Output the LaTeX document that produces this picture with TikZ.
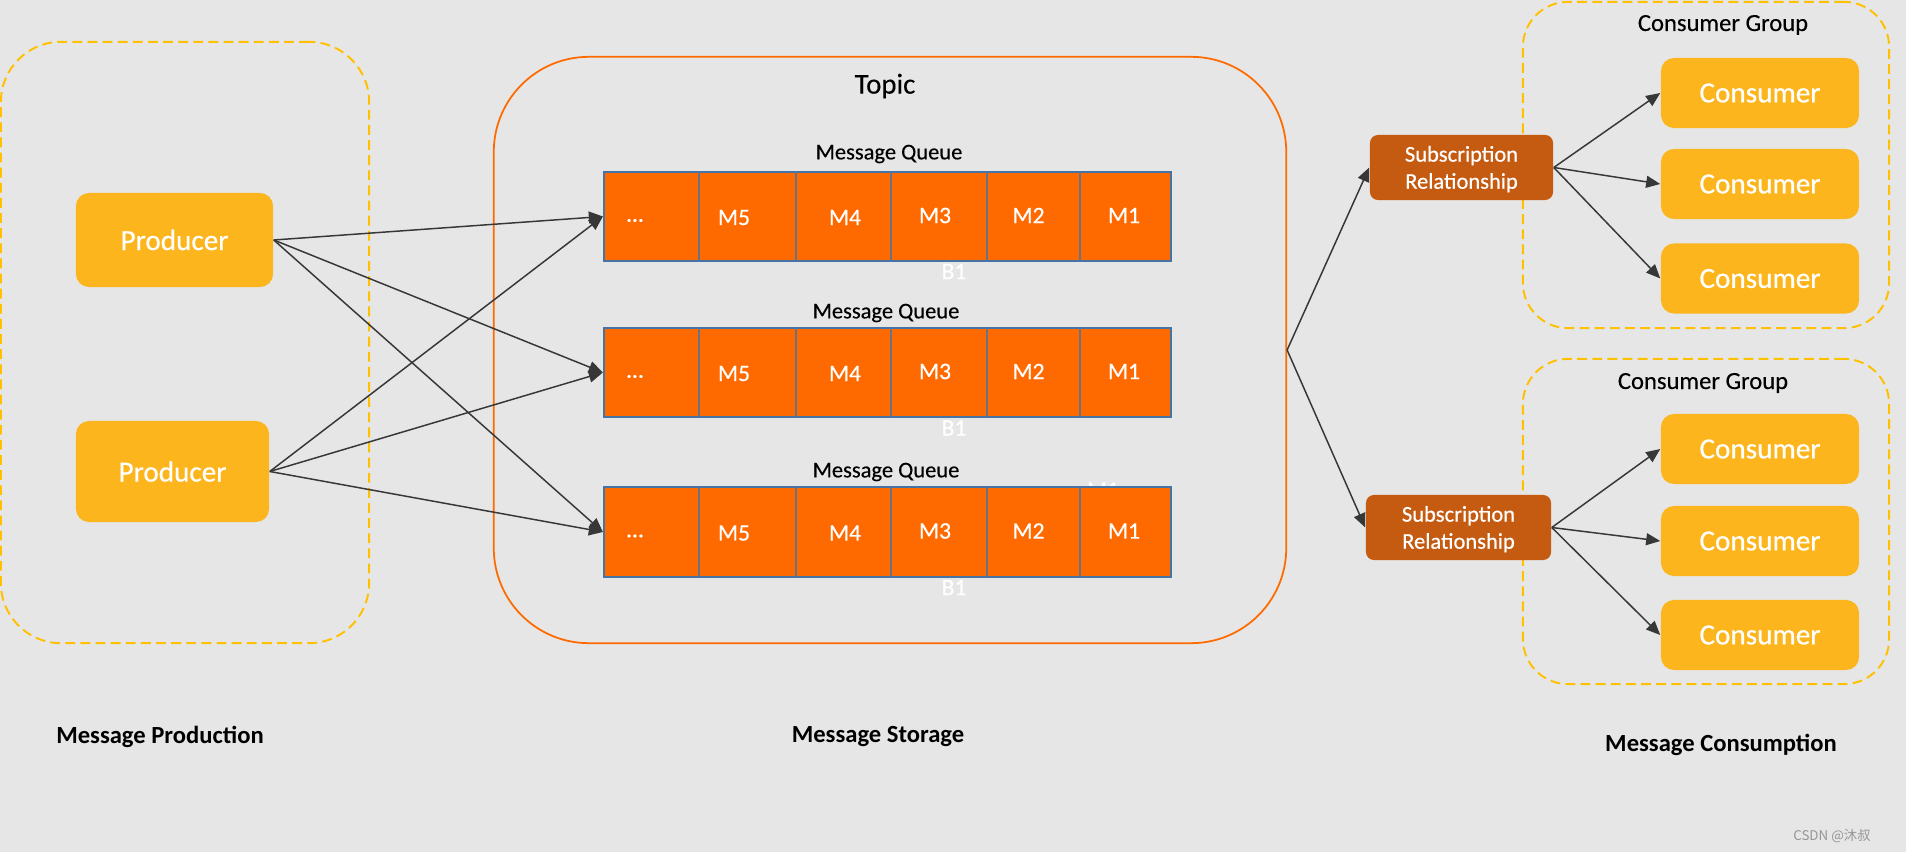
\documentclass[tikz,border=0pt]{standalone}
\usepackage{fontspec}
\setmainfont{Carlito}
\newfontfamily\heavyfont[FakeBold=0.5]{Carlito}
\newfontfamily\midfont[FakeBold=0.25]{Carlito}
\newfontfamily\cjkfont{Noto Sans CJK SC}
\usetikzlibrary{arrows.meta}
\definecolor{bgc}{RGB}{230,230,230}
\definecolor{gold}{RGB}{253,181,29}
\definecolor{dashy}{RGB}{255,192,0}
\definecolor{barc}{RGB}{255,106,0}
\definecolor{barline}{RGB}{70,115,165}
\definecolor{divc}{RGB}{105,115,135}
\definecolor{subc}{RGB}{197,90,17}
\definecolor{arr}{RGB}{55,55,55}
\definecolor{wmc}{RGB}{150,150,150}
\begin{document}
\begin{tikzpicture}[x=0.01cm,y=-0.01cm,
  yellowbox/.style={fill=gold, rounded corners=0.13cm, text=white, inner sep=0pt, font=\heavyfont\fontsize{8.3pt}{10pt}\selectfont},
  groupbox/.style={draw=dashy, line width=0.55pt, dash pattern=on 2.8pt off 1.5pt, rounded corners=#1, inner sep=0pt},
  queuebar/.style={fill=barc, draw=barline, line width=0.55pt, minimum width=5.67cm, minimum height=0.89cm, inner sep=0pt},
  celltext/.style={text=white, font=\heavyfont\fontsize{6.7pt}{8pt}\selectfont},
  qlabel/.style={font=\midfont\fontsize{6.4pt}{8pt}\selectfont},
  cglabel/.style={font=\midfont\fontsize{7pt}{8.5pt}\selectfont},
  subbox/.style={fill=subc, rounded corners=0.08cm, text=white, align=center, inner sep=0pt, font=\heavyfont\fontsize{6.4pt}{7.7pt}\selectfont, minimum height=0.65cm},
  link/.style={draw=arr, line width=0.42pt, -{Triangle[length=4pt,width=3.4pt]}},
  sectionlabel/.style={font=\bfseries\fontsize{7pt}{8.5pt}\selectfont},
  divider/.style={draw=divc, line width=0.45pt}
]
\fill[bgc] (0,0) rectangle (1906,852);
\useasboundingbox (0,0) rectangle (1906,852);

% containers
\node[groupbox=0.6cm, minimum width=3.68cm, minimum height=6.01cm] (prodgrp) at (185,342.5) {};
\node[draw=barc, line width=0.5pt, rounded corners=0.95cm, minimum width=7.92cm, minimum height=5.86cm, inner sep=0pt] (topic) at (890,350) {};
\node[font=\midfont\fontsize{8.2pt}{10pt}\selectfont] (topiclabel) at (885,86) {Topic};
\node[groupbox=0.45cm, minimum width=3.66cm, minimum height=3.26cm] (cg1) at (1706,165) {};
\node[groupbox=0.45cm, minimum width=3.66cm, minimum height=3.25cm] (cg2) at (1706,521.5) {};
\node[cglabel] (cg1label) at (1723,25) {Consumer Group};
\node[cglabel] (cg2label) at (1703,383) {Consumer Group};

% producers
\node[yellowbox, minimum width=1.97cm, minimum height=0.94cm] (p1) at (174.5,240) {Producer};
\node[yellowbox, minimum width=1.93cm, minimum height=1.01cm] (p2) at (172.5,471.5) {Producer};

% hidden labels behind bars
\node[celltext] (bl1) at (954,271.5) {B1};
\node[celltext] (bl2) at (954,428) {B1};
\node[celltext] (bl3) at (954,587.5) {B1};
\node[celltext] (ghost) at (1103,490) {M1};

% queues
\node[qlabel] (ql1) at (889,154) {Message Queue};
\node[qlabel] (ql2) at (886,313) {Message Queue};
\node[qlabel] (ql3) at (886,472) {Message Queue};
\node[queuebar] (q1) at (887.5,216.5) {};
\node[queuebar] (q2) at (887.5,372.5) {};
\node[queuebar, minimum height=0.90cm] (q3) at (887.5,532) {};
\foreach \yc/\h in {216.5/44.5, 372.5/44.5, 532/45}
  \foreach \xd in {699,796,891,987,1080}
    \draw[divider] (\xd,\yc-\h) -- (\xd,\yc+\h);
\foreach \yc [count=\i] in {216.5,372.5,532} {
  \node[celltext] (dots\i) at (635,\yc+4) {…};
  \node[celltext] (mfive\i) at (734,\yc+1) {M5};
  \node[celltext] (mfour\i) at (845,\yc+1) {M4};
  \node[celltext] (mthree\i) at (935,\yc-1) {M3};
  \node[celltext] (mtwo\i) at (1028.5,\yc-1) {M2};
  \node[celltext] (mone\i) at (1124,\yc-1) {M1};
}

% subscriptions
\node[subbox, minimum width=1.83cm] (s1) at (1461.5,167.5) {\strut Subscription\\Relationship};
\node[subbox, minimum width=1.85cm] (s2) at (1458.5,527.5) {\strut Subscription\\Relationship};

% consumers
\node[yellowbox, minimum width=1.98cm, minimum height=0.70cm] (c1) at (1760,93) {Consumer};
\node[yellowbox, minimum width=1.98cm, minimum height=0.70cm] (c2) at (1760,184) {Consumer};
\node[yellowbox, minimum width=1.98cm, minimum height=0.70cm] (c3) at (1760,278.5) {Consumer};
\node[yellowbox, minimum width=1.98cm, minimum height=0.70cm] (c4) at (1760,449) {Consumer};
\node[yellowbox, minimum width=1.98cm, minimum height=0.70cm] (c5) at (1760,541) {Consumer};
\node[yellowbox, minimum width=1.98cm, minimum height=0.70cm] (c6) at (1760,635) {Consumer};

% connectors
\foreach \p in {p1,p2}
  \foreach \q in {q1,q2,q3}
    \draw[link] (\p.east) -- (\q.west);
\draw[link] (topic.east) -- (s1.west);
\draw[link] (topic.east) -- (s2.west);
\foreach \c in {c1,c2,c3} \draw[link] (s1.east) -- (\c.west);
\foreach \c in {c4,c5,c6} \draw[link] (s2.east) -- (\c.west);

% section labels
\node[sectionlabel] (secprod) at (160,737) {Message Production};
\node[sectionlabel] (secstore) at (878,737) {Message Storage};
\node[sectionlabel] (seccons) at (1721,745) {Message Consumption};

\node[text=wmc, font=\cjkfont\fontsize{3.8pt}{4.5pt}\selectfont] (wm) at (1832,836) {CSDN @沐叔};
\end{tikzpicture}
\end{document}
